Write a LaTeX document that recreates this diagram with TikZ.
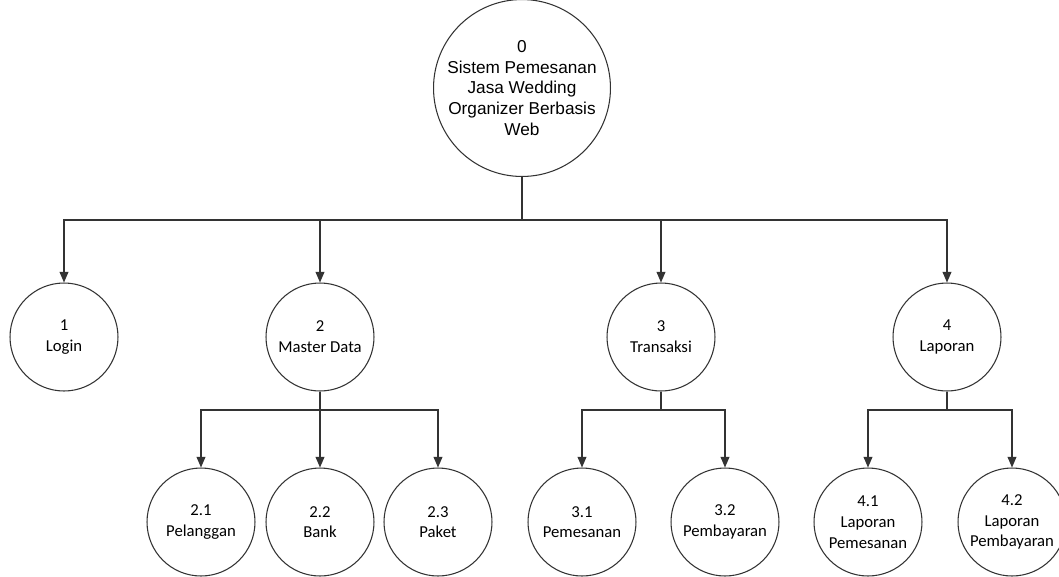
\documentclass[tikz,border=0pt]{standalone}
\usepackage{fontspec}
\setmainfont{Carlito}
\newfontfamily\arialfont{Liberation Sans}
\usetikzlibrary{arrows.meta}
\tikzset{
>={Triangle[width=5pt,length=6pt]},
proses/.style={circle,draw=black!80,line width=0.6pt,inner sep=0pt,minimum size=2.16cm,align=center,font=\fontsize{9.5}{11.8}\selectfont},
utama/.style={proses,minimum size=3.28cm,font=\arialfont\fontsize{9.8}{11.8}\selectfont},
freccia/.style={->,draw=black!80,line width=0.6pt}}

\begin{document}
\begin{tikzpicture}[x=0.02cm,y=-0.02cm]

\fill[white] (0,0) rectangle (1059,576);
\clip (0,0) rectangle (1059,576);

\node[utama] (0) at (522,88) {0\\Sistem Pemesanan\\Jasa Wedding\\Organizer Berbasis\\Web};

\node[proses] (1) at (64,337) {1\\Login};
\node[proses] (2) at (320,337) {2\\Master Data};
\node[proses] (3) at (661,337) {3\\Transaksi};
\node[proses] (4) at (947,337) {4\\Laporan};

\node[proses] (21) at (201,522) {2.1\\Pelanggan};
\node[proses] (22) at (320,522) {2.2\\Bank};
\node[proses] (23) at (438,522) {2.3\\Paket};
\node[proses] (31) at (582,522) {3.1\\Pemesanan};
\node[proses] (32) at (725,522) {3.2\\Pembayaran};
\node[proses] (41) at (868,522) {4.1\\Laporan\\Pemesanan};
\node[proses] (42) at (1012,522) {4.2\\Laporan\\Pembayaran};

\coordinate (b0) at (522,220);
\coordinate (b2) at (320,410);
\coordinate (b3) at (661,410);
\coordinate (b4) at (947,410);

\draw[freccia] (0) -- (b0) -| (1);
\draw[freccia] (b0) -| (2);
\draw[freccia] (b0) -| (3);
\draw[freccia] (b0) -| (4);

\draw[freccia] (2) -- (b2) -| (21);
\draw[freccia] (b2) -| (22);
\draw[freccia] (b2) -| (23);

\draw[freccia] (3) -- (b3) -| (31);
\draw[freccia] (b3) -| (32);

\draw[freccia] (4) -- (b4) -| (41);
\draw[freccia] (b4) -| (42);

\end{tikzpicture}
\end{document}
